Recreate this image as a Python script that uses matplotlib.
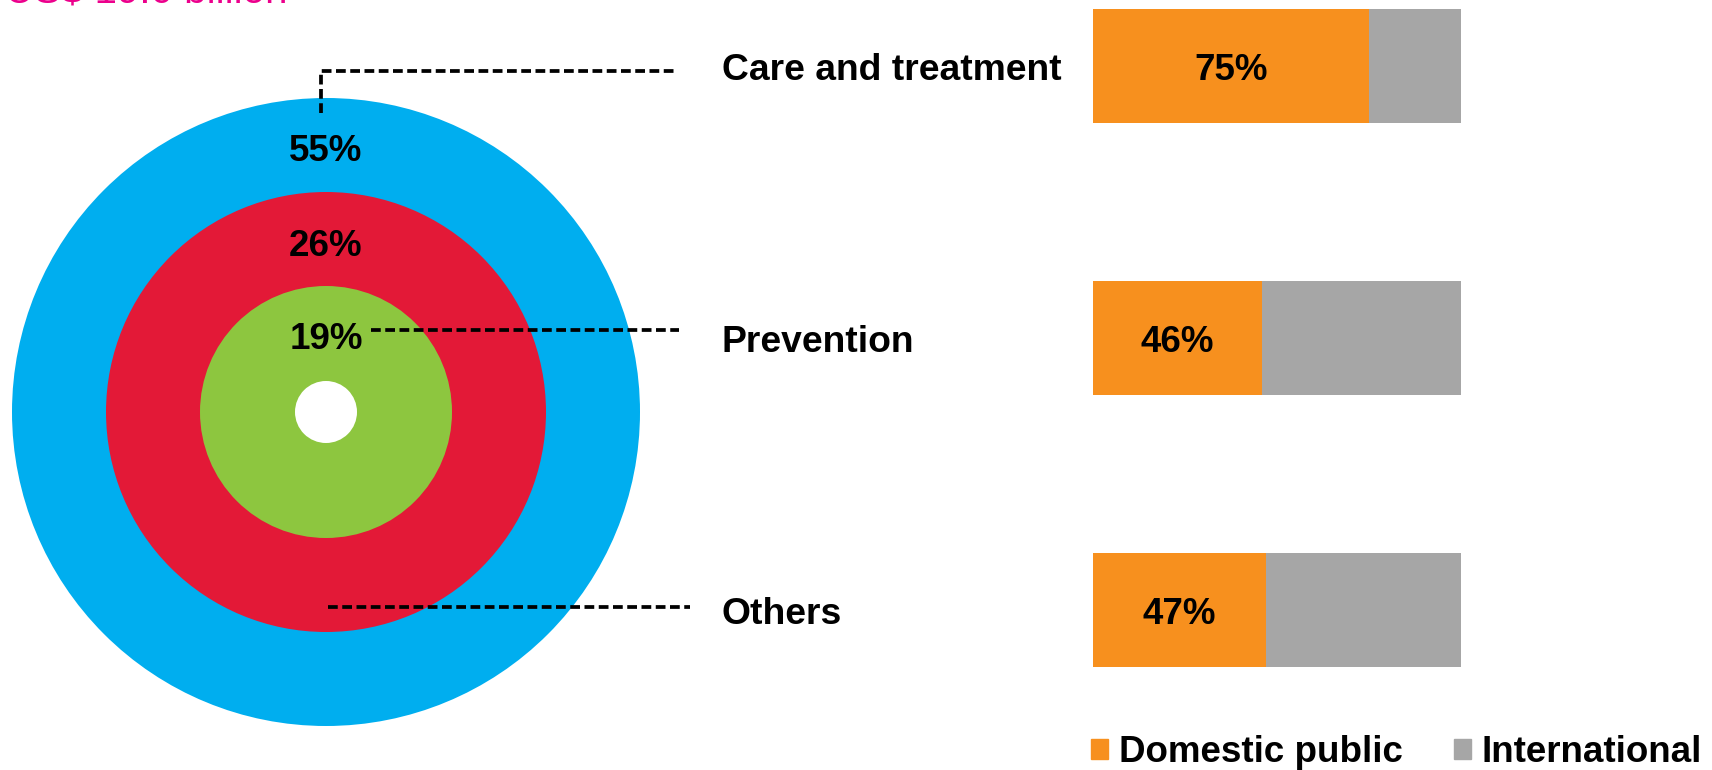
import matplotlib.pyplot as plt
from matplotlib.patches import Circle, Patch
from matplotlib.transforms import blended_transform_factory, offset_copy

plt.rcParams['font.family'] = ['Liberation Sans', 'DejaVu Sans']

# spending split by area (rings) and domestic share per area (bars)
categories = ['Care and treatment', 'Prevention', 'Others']
ring_share = [55, 26, 19]
domestic_share = [75, 46, 47]
total_label = 'US$ 19.0 billion'
legend_labels = ['Domestic public', 'International']

ring_colors = ['#00AEEF', '#E31937', '#8DC63F']
domestic_color = '#F7901E'
intl_color = '#A6A6A6'
pink = '#EC008C'

W, H = 1712, 770
fig = plt.figure(figsize=(W / 100, H / 100), dpi=100)

# pixel-space canvas for the rings and leader lines
ax = fig.add_axes([0, 0, 1, 1])
ax.set_xlim(0, W)
ax.set_ylim(H, 0)
ax.set_aspect('equal')
ax.axis('off')

cx, cy = 326, 412
radii = [314, 220, 126]
for r, c in zip(radii, ring_colors):
    ax.add_patch(Circle((cx, cy), r, color=c, lw=0))
ax.add_patch(Circle((cx, cy), 31, color='white', lw=0))

# texts sit a little below their geometric centre (digits have no descenders)
px_off = offset_copy(ax.transData, fig=fig, y=-3, units='points')
label_y = [147, 242, 335]
for v, y in zip(ring_share, label_y):
    ax.text(cx, y, f'{v}%', transform=px_off, ha='center', va='center',
            fontsize=26.5, fontweight='bold', color='black')

ax.text(5, 4, total_label, ha='left', va='baseline', fontsize=29,
        color=pink)

# horizontal bars: domestic vs international share
bx0, bx1 = 1093, 1461
by0, by1 = 9, 667
bax = fig.add_axes([bx0 / W, 1 - by1 / H, (bx1 - bx0) / W, (by1 - by0) / H])
ypos = list(range(len(categories)))
intl_share = [100 - d for d in domestic_share]
bax.barh(ypos, domestic_share, height=0.42, color=domestic_color, lw=0)
bax.barh(ypos, intl_share, left=domestic_share, height=0.42,
         color=intl_color, lw=0)
bax.set_xlim(0, 100)
bax.set_ylim(len(categories) - 1 + 0.21, -0.21)
bax.axis('off')
bar_off = offset_copy(bax.transData, fig=fig, y=-3, units='points')
for y, d in zip(ypos, domestic_share):
    bax.text(d / 2, y, f'{d}%', transform=bar_off, ha='center', va='center',
             fontsize=26.5, fontweight='bold', color='black')

# category names lined up with the bars
trans = offset_copy(blended_transform_factory(ax.transData, bax.transData),
                    fig=fig, y=-3, units='points')
for y, name in zip(ypos, categories):
    ax.text(722, y, name, transform=trans, ha='left', va='center',
            fontsize=26.8, fontweight='bold', color='black')

# dashed leaders from the rings to the names
dash = dict(color='black', lw=2.7, dashes=(2.6, 1.2))
ax.plot([321, 321, 676], [113, 71, 71], **dash)
ax.plot([371, 679], [330, 330], **dash)
ax.plot([328, 690], [607, 607], **dash)

handles = [Patch(color=domestic_color), Patch(color=intl_color)]
fig.legend(handles, legend_labels, loc='center left',
           bbox_to_anchor=(1091 / W, 1 - 753 / H), ncol=2, frameon=False,
           borderpad=0, borderaxespad=0, handlelength=0.45,
           handleheight=0.45, handletextpad=0.3, columnspacing=1.4,
           prop={'size': 26.5, 'weight': 'bold'})

fig.savefig('out.png', dpi=100)
